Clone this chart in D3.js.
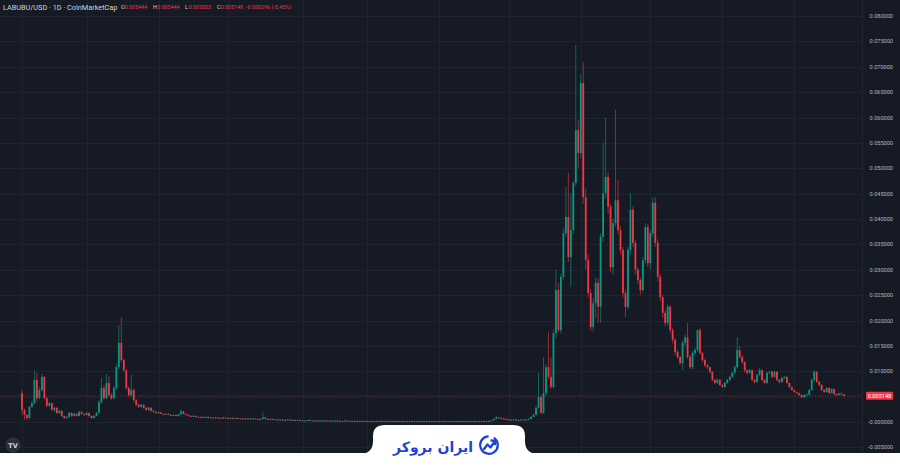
<!DOCTYPE html>
<html><head><meta charset="utf-8">
<script src="https://cdn.jsdelivr.net/npm/d3@7"></script>
<style>html,body{margin:0;padding:0;background:#ffffff;overflow:hidden}svg{display:block}</style>
</head><body><svg id="chart" width="900" height="471"></svg>
<script>
// ---------------- DATA ----------------
const symbolTitle = "LABUBU/USD · 1D · CoinMarketCap";
const ohlcLetters = ["O", "H", "L", "C"];
const ohlcValues = ["0.005444", "0.005444", "0.005003", "0.005148"];
const changeText = "-0.000296 (-5.45%)";
const lastPrice = 0.005148;
const lastPriceLabel = "0.005148";
const brandText = "ایران بروکر";

const priceTicks = [0.08, 0.075, 0.07, 0.065, 0.06, 0.055, 0.05, 0.045, 0.04, 0.035, 0.03, 0.025, 0.02, 0.015, 0.01, 0.005, 0, -0.005];
const priceTickLabels = ["0.080000", "0.075000", "0.070000", "0.065000", "0.060000", "0.055000", "0.050000", "0.045000", "0.040000", "0.035000", "0.030000", "0.025000", "0.020000", "0.015000", "0.010000", "0.005000", "-0.000000", "-0.005000"];

// candle indices where the time grid lines fall
const timeGridIdx = [0, 26, 55, 83, 113, 139, 168, 196, 225, 253, 282, 311];

const firstOpen = 0.0057;

const closes = [
// early spikes (0-52)
0.0024,0.0014,0.0008,0.0030,0.0037,0.0083,0.0047,0.0063,0.0089,0.0047,
0.0032,0.0037,0.0024,0.0028,0.0018,0.0022,0.0012,0.0008,0.0010,0.0018,
0.0012,0.0016,0.0012,0.0020,0.0016,0.0014,0.0018,0.0012,0.0008,0.0012,
0.0018,0.0039,0.0067,0.0047,0.0077,0.0053,0.0047,0.0067,0.0108,0.0156,
0.0122,0.0102,0.0067,0.0053,0.0063,0.0043,0.0034,0.0030,0.0034,0.0028,
0.0024,0.0028,0.0022,
// slow fade (53-130)
0.0020,0.0018,0.0019,0.0016,0.0015,0.0016,0.0014,0.0013,0.0014,0.0012,
0.0015,0.0021,0.0016,0.0014,0.0012,0.0011,0.0012,0.0010,0.0009,0.0010,
0.0009,0.0010,0.0008,0.0009,0.0008,0.0009,0.0008,0.0007,0.0009,0.0008,
0.0007,0.0008,0.0007,0.0008,0.0007,0.0006,0.0007,0.0006,0.0007,0.0006,
0.0007,0.0006,0.0005,0.0006,0.0009,0.0006,0.0005,0.0006,0.0005,0.0005,
0.0004,0.0005,0.0004,0.0004,0.0005,0.0004,0.0004,0.0003,0.0004,0.0003,
0.0003,0.0003,0.0004,0.0003,0.0003,0.0003,0.0002,0.0003,0.0003,0.0002,
0.0003,0.0002,0.0002,0.0003,0.0002,0.0002,0.0002,0.0003,
// flat (131-187)
0.0002,0.00022,0.0002,0.00019,0.00021,0.0002,0.00018,0.0002,0.00021,0.0002,
0.00019,0.0002,0.00022,0.0002,0.00018,0.00019,0.0002,0.00021,0.0002,0.00019,
0.00018,0.0002,0.00019,0.00018,0.0002,0.00021,0.00019,0.00018,0.0002,0.00019,
0.00017,0.00018,0.0002,0.00019,0.00018,0.00017,0.00019,0.0002,0.00018,0.00017,
0.00018,0.00019,0.00017,0.00018,0.0002,0.00019,0.00018,0.00017,0.00018,0.0002,
0.00019,0.00018,0.00019,0.0002,0.00019,0.00018,0.00019,
// wake-up (188-207)
0.0002,0.0003,0.0006,0.0009,0.0008,0.0007,0.0006,0.0005,0.0005,0.0004,
0.0005,0.0004,0.0004,0.0005,0.0004,0.0005,0.0006,0.0010,0.0014,0.0028,
// rally (208-263)
0.0049,0.0018,0.0057,0.0108,0.0089,0.0069,0.0175,0.0260,0.0181,0.0286,
0.0372,0.0404,0.0325,0.0378,0.0471,0.0575,0.0530,0.0668,0.0443,0.0319,
0.0254,0.0187,0.0234,0.0274,0.0227,0.0365,0.0451,0.0483,0.0424,0.0305,
0.0392,0.0437,0.0378,0.0339,0.0254,0.0227,0.0339,0.0418,0.0353,0.0300,
0.0280,0.0260,0.0319,0.0384,0.0313,0.0372,0.0432,0.0353,0.0286,0.0246,
0.0215,0.0195,0.0227,0.0181,0.0162,0.0138,
// decline (264-331)
0.0128,0.0116,0.0156,0.0167,0.0128,0.0108,0.0136,0.0142,0.0181,0.0136,
0.0122,0.0112,0.0108,0.0099,0.0083,0.0077,0.0083,0.0073,0.0069,0.0077,
0.0083,0.0089,0.0097,0.0108,0.0142,0.0128,0.0118,0.0102,0.0097,0.0102,
0.0083,0.0079,0.0093,0.0102,0.0083,0.0077,0.0097,0.0099,0.0089,0.0099,
0.0083,0.0079,0.0087,0.0089,0.0077,0.0069,0.0063,0.0059,0.0057,0.0053,
0.0049,0.0053,0.0054,0.0063,0.0083,0.0099,0.0079,0.0073,0.0063,0.0059,
0.0067,0.0057,0.0065,0.0055,0.0053,0.0056,0.005444,0.005148
];

const highs = [
0.0063,0.0026,0.0016,0.0032,0.0042,0.0102,0.0098,0.0070,0.0095,0.0090,
0.0049,0.0040,0.0038,0.0030,0.0029,0.0024,0.0023,0.0013,0.0012,0.0020,
0.0019,0.0018,0.0017,0.0022,0.0021,0.0017,0.0020,0.0019,0.0013,0.0014,
0.0020,0.0043,0.0087,0.0072,0.0095,0.0091,0.0057,0.0071,0.0114,0.0191,
0.0207,0.0125,0.0104,0.0070,0.0093,0.0066,0.0045,0.0036,0.0036,0.0035,
0.0030,0.0030,0.0029,
0.0024,0.0021,0.0021,0.0020,0.0017,0.0017,0.0017,0.0015,0.0015,0.0015,
0.0016,0.0025,0.0022,0.0017,0.0015,0.0013,0.0013,0.0013,0.0011,0.0011,
0.0011,0.0011,0.0011,0.0010,0.0010,0.0010,0.0010,0.0009,0.0010,0.0010,
0.0009,0.0009,0.0009,0.0009,0.0009,0.0008,0.0008,0.0008,0.0008,0.0008,
0.0008,0.0008,0.0007,0.0007,0.0019,0.0010,0.0007,0.0007,0.0007,0.0006,
0.0006,0.0006,0.0006,0.0005,0.0006,0.0006,0.0005,0.0005,0.0005,0.0005,
0.0004,0.0004,0.0005,0.0005,0.0004,0.0004,0.0004,0.0004,0.0004,0.0004,
0.0004,0.0004,0.0004,0.0004,0.0004,0.0003,0.0003,0.0004,
0.00031,0.00028,0.00027,0.00025,0.00027,0.00026,0.00025,0.00026,0.00027,0.00026,
0.00025,0.00026,0.00028,0.00027,0.00025,0.00024,0.00026,0.00027,0.00026,0.00025,
0.00024,0.00026,0.00025,0.00024,0.00026,0.00027,0.00026,0.00024,0.00026,0.00025,
0.00024,0.00023,0.00026,0.00025,0.00024,0.00023,0.00025,0.00026,0.00025,0.00023,
0.00024,0.00025,0.00024,0.00024,0.00026,0.00025,0.00024,0.00023,0.00024,0.00026,
0.00025,0.00024,0.00025,0.00026,0.00025,0.00024,0.00025,
0.0003,0.0004,0.0007,0.0012,0.0010,0.0009,0.0008,0.0007,0.0006,0.0006,
0.0006,0.0006,0.0005,0.0006,0.0006,0.0006,0.0007,0.0012,0.0017,0.0032,
0.0097,0.0052,0.0128,0.0113,0.0177,0.0128,0.0182,0.0300,0.0274,0.0292,
0.0382,0.0463,0.0491,0.0451,0.0475,0.0743,0.0595,0.0685,0.0709,0.0460,
0.0330,0.0262,0.0245,0.0285,0.0283,0.0372,0.0550,0.0599,0.0492,0.0430,
0.0400,0.0615,0.0477,0.0385,0.0345,0.0260,0.0345,0.0451,0.0425,0.0358,
0.0305,0.0285,0.0325,0.0392,0.0390,0.0378,0.0443,0.0443,0.0360,0.0292,
0.0250,0.0220,0.0232,0.0230,0.0185,0.0165,
0.0142,0.0130,0.0160,0.0172,0.0195,0.0132,0.0140,0.0146,0.0183,0.0185,
0.0138,0.0125,0.0114,0.0110,0.0100,0.0085,0.0086,0.0085,0.0075,0.0079,
0.0085,0.0091,0.0099,0.0112,0.0167,0.0150,0.0132,0.0120,0.0104,0.0105,
0.0104,0.0085,0.0095,0.0106,0.0104,0.0085,0.0099,0.0101,0.0101,0.0101,
0.0100,0.0085,0.0089,0.0091,0.0090,0.0078,0.0070,0.0064,0.0060,0.0058,
0.0054,0.0055,0.0056,0.0065,0.0086,0.0102,0.0100,0.0081,0.0075,0.0065,
0.0069,0.0068,0.0067,0.0066,0.0056,0.0058,0.0058,0.005444
];

const lows = [
0.0014,0.0004,0.0004,0.0006,0.0028,0.0035,0.0040,0.0045,0.0060,0.0044,
0.0029,0.0030,0.0022,0.0020,0.0016,0.0016,0.0010,0.0006,0.0006,0.0009,
0.0010,0.0011,0.0010,0.0011,0.0014,0.0012,0.0013,0.0010,0.0006,0.0007,
0.0011,0.0017,0.0036,0.0044,0.0045,0.0050,0.0043,0.0045,0.0063,0.0104,
0.0118,0.0098,0.0063,0.0049,0.0050,0.0040,0.0031,0.0028,0.0028,0.0026,
0.0022,0.0022,0.0020,
0.0018,0.0016,0.0017,0.0015,0.0013,0.0014,0.0013,0.0012,0.0012,0.0011,
0.0011,0.0014,0.0015,0.0013,0.0011,0.0010,0.0010,0.0009,0.0008,0.0008,
0.0008,0.0008,0.0007,0.0007,0.0007,0.0007,0.0007,0.0006,0.0006,0.0007,
0.0006,0.0006,0.0006,0.0006,0.0006,0.0005,0.0005,0.0005,0.0005,0.0005,
0.0005,0.0005,0.0004,0.0004,0.0005,0.0005,0.0004,0.0004,0.0004,0.0004,
0.0003,0.0003,0.0003,0.0003,0.0003,0.0003,0.0003,0.0002,0.0002,0.0002,
0.0002,0.0002,0.0002,0.0002,0.0002,0.0002,0.0001,0.0001,0.0002,0.0001,
0.0001,0.0001,0.0001,0.0001,0.0001,0.0001,0.0001,0.0001,
0.00014,0.00016,0.00015,0.00014,0.00015,0.00015,0.00013,0.00014,0.00015,0.00015,
0.00014,0.00014,0.00016,0.00015,0.00013,0.00014,0.00015,0.00016,0.00015,0.00014,
0.00013,0.00014,0.00014,0.00013,0.00014,0.00016,0.00014,0.00013,0.00014,0.00014,
0.00012,0.00013,0.00014,0.00014,0.00013,0.00012,0.00013,0.00015,0.00013,0.00012,
0.00013,0.00014,0.00012,0.00013,0.00014,0.00014,0.00013,0.00012,0.00013,0.00014,
0.00014,0.00013,0.00014,0.00015,0.00014,0.00013,0.00014,
0.00015,0.00015,0.0003,0.0005,0.0007,0.0006,0.0005,0.0004,0.0004,0.0003,
0.0003,0.0003,0.0003,0.0003,0.0003,0.0003,0.0004,0.0005,0.0009,0.0013,
0.0026,0.0015,0.0016,0.0052,0.0085,0.0065,0.0066,0.0165,0.0177,0.0175,
0.0280,0.0365,0.0315,0.0266,0.0370,0.0465,0.0500,0.0520,0.0430,0.0300,
0.0245,0.0180,0.0178,0.0205,0.0195,0.0195,0.0355,0.0440,0.0410,0.0295,
0.0290,0.0385,0.0370,0.0330,0.0245,0.0207,0.0222,0.0330,0.0345,0.0290,
0.0272,0.0250,0.0255,0.0312,0.0305,0.0300,0.0365,0.0345,0.0278,0.0238,
0.0205,0.0188,0.0190,0.0175,0.0155,0.0132,
0.0124,0.0112,0.0102,0.0150,0.0124,0.0104,0.0104,0.0132,0.0138,0.0132,
0.0118,0.0108,0.0104,0.0095,0.0080,0.0074,0.0075,0.0071,0.0067,0.0067,
0.0075,0.0080,0.0087,0.0095,0.0105,0.0125,0.0114,0.0098,0.0094,0.0095,
0.0080,0.0076,0.0077,0.0090,0.0080,0.0074,0.0075,0.0094,0.0086,0.0087,
0.0080,0.0076,0.0077,0.0084,0.0075,0.0067,0.0061,0.0057,0.0055,0.0051,
0.0047,0.0047,0.0050,0.0052,0.0061,0.0080,0.0077,0.0070,0.0061,0.0057,
0.0058,0.0055,0.0056,0.0053,0.0051,0.0052,0.0053,0.005003
];

// ---------------- DRAW ----------------
const W = 900, H = 471;
const plotRight = 862, paneBottom = 453;
const colUp = "#089981", colDown = "#f23645";
const ff = "Roboto, 'Liberation Sans', sans-serif";

const candles = closes.map((c, i) => ({
  i, c, h: highs[i], l: lows[i], o: i === 0 ? firstOpen : closes[i - 1]
}));

const svg = d3.select("#chart");
const x = d3.scaleLinear().domain([0, closes.length - 1]).range([22, 844]);
const y = d3.scaleLinear().domain([0, 0.08]).range([422, 16]);

svg.append("rect").attr("x", 0).attr("y", 0).attr("width", W).attr("height", paneBottom).attr("fill", "#161a25");

// grid
const grid = svg.append("g").attr("shape-rendering", "crispEdges");
grid.selectAll("line.h").data(priceTicks).join("line")
  .attr("x1", 0).attr("x2", plotRight)
  .attr("y1", d => Math.round(y(d)) + 0.5).attr("y2", d => Math.round(y(d)) + 0.5)
  .attr("stroke", "#1f2330").attr("stroke-width", 1);
grid.selectAll("line.v").data(timeGridIdx).join("line")
  .attr("x1", d => Math.round(x(d)) + 0.5).attr("x2", d => Math.round(x(d)) + 0.5)
  .attr("y1", 0).attr("y2", paneBottom)
  .attr("stroke", "#1f2330").attr("stroke-width", 1);

// last price line
svg.append("line")
  .attr("x1", 0).attr("x2", plotRight)
  .attr("y1", y(lastPrice)).attr("y2", y(lastPrice))
  .attr("stroke", colDown).attr("stroke-opacity", 0.55).attr("stroke-width", 1)
  .attr("stroke-dasharray", "1,1.5");

// candles
const bw = 1.8;
const cg = svg.append("g");
cg.selectAll("line.wick").data(candles).join("line")
  .attr("x1", d => x(d.i)).attr("x2", d => x(d.i))
  .attr("y1", d => y(Math.max(d.h, d.o, d.c)))
  .attr("y2", d => y(Math.min(d.l, d.o, d.c)))
  .attr("stroke", d => d.c >= d.o ? colUp : colDown)
  .attr("stroke-opacity", 0.6)
  .attr("stroke-width", 1);
cg.selectAll("rect.body").data(candles).join("rect")
  .attr("x", d => x(d.i) - bw / 2)
  .attr("width", bw)
  .attr("y", d => y(Math.max(d.o, d.c)))
  .attr("height", d => Math.max(1, Math.abs(y(d.o) - y(d.c))))
  .attr("fill", d => d.c >= d.o ? colUp : colDown);

// right axis
svg.append("line").attr("x1", plotRight + 0.5).attr("x2", plotRight + 0.5).attr("y1", 0).attr("y2", paneBottom)
  .attr("stroke", "#222632").attr("stroke-width", 1);
svg.append("g").selectAll("text").data(priceTicks).join("text")
  .attr("x", 893).attr("y", d => y(d) + 2)
  .attr("text-anchor", "end")
  .attr("font-family", ff)
  .attr("font-size", 5.6)
  .attr("fill", "#b2b5be")
  .text((d, i) => priceTickLabels[i]);

// last price tag
const ly = y(lastPrice);
svg.append("rect").attr("x", 866).attr("y", ly - 4).attr("width", 27).attr("height", 8).attr("rx", 1)
  .attr("fill", colDown);
svg.append("text").attr("x", 879.5).attr("y", ly + 2).attr("text-anchor", "middle")
  .attr("font-family", ff).attr("font-size", 5.6)
  .attr("fill", "#ffffff").text(lastPriceLabel);

// title + OHLC legend
svg.append("text").attr("x", 3).attr("y", 9.5).attr("font-family", ff).attr("font-size", 7.3)
  .attr("fill", "#d1d4dc").text(symbolTitle);
const letterX = [121, 153, 185, 217];
const valueX = [124.5, 157, 188.5, 220.5];
ohlcLetters.forEach((L, k) => {
  svg.append("text").attr("x", letterX[k]).attr("y", 9.3).attr("font-family", ff).attr("font-size", 5.4)
    .attr("fill", "#d1d4dc").text(L);
  svg.append("text").attr("x", valueX[k]).attr("y", 9.3).attr("font-family", ff).attr("font-size", 5.4)
    .attr("fill", colDown).text(ohlcValues[k]);
});
svg.append("text").attr("x", 246).attr("y", 9.3).attr("font-family", ff).attr("font-size", 5.4)
  .attr("fill", colDown).text(changeText);

// TradingView badge
svg.append("circle").attr("cx", 13).attr("cy", 445).attr("r", 7).attr("fill", "#2a2e39").attr("stroke", "#363a45");
svg.append("text").attr("x", 13).attr("y", 447.5).attr("text-anchor", "middle")
  .attr("font-family", "'DejaVu Sans', sans-serif").attr("font-weight", "bold").attr("font-size", 6.5)
  .attr("fill", "#d1d4dc").text("TV");

// bottom white strip + tab
svg.append("rect").attr("x", 0).attr("y", paneBottom).attr("width", W).attr("height", H - paneBottom).attr("fill", "#ffffff");
svg.append("path")
  .attr("d", "M359,454 Q373,454 373,441 L373,436 Q373,425 385,425 L513,425 Q525,425 525,436 L525,441 Q525,454 539,454 Z")
  .attr("fill", "#ffffff");

// brand logo
const blue = "#1d43d6";
const bt = svg.append("text").attr("x", 433).attr("y", 451.5).attr("text-anchor", "middle")
  .attr("font-family", "'DejaVu Sans', 'Noto Sans', sans-serif").attr("font-weight", "bold")
  .attr("font-size", 14).attr("fill", blue).text(brandText);
const bl = bt.node().getComputedTextLength();
if (bl > 0) bt.attr("font-size", 14 * 80 / bl);

const icon = svg.append("g").attr("transform", "translate(489,445)").attr("fill", "none")
  .attr("stroke", blue).attr("stroke-width", 2.3).attr("stroke-linecap", "round").attr("stroke-linejoin", "round");
icon.append("path").attr("d", d3.arc()({innerRadius: 8.8, outerRadius: 8.8, startAngle: 0.7, endAngle: 2 * Math.PI - 0.15}));
icon.append("path").attr("d", "M-5,4 L-1.5,-0.5 L1.5,2.5 L6,-4");
icon.append("path").attr("d", "M2.5,-4.5 L6.2,-4.2 L6,-0.8");
</script>
</body></html>
